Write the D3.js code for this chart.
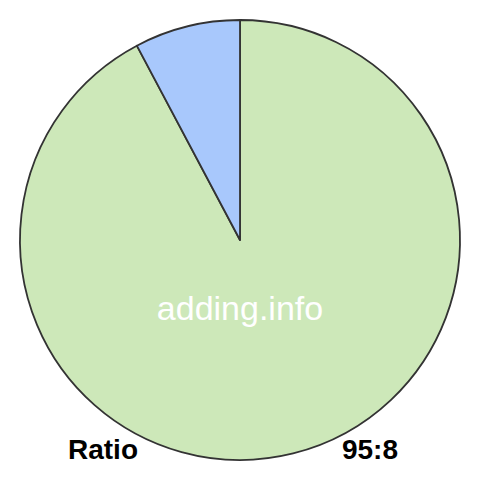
<!DOCTYPE html>
<html>
<head>
<meta charset="utf-8">
<script src="https://cdn.jsdelivr.net/npm/d3@7"></script>
<style>
  body { margin: 0; background: #fff; }
</style>
</head>
<body>
<div id="chart"></div>
<script>
const labels = ["95", "8"];
const values = [95, 8];
const colors = ["#cde8b9", "#a8c8fc"];

const width = 480, height = 480;
const cx = 240, cy = 240, radius = 220;

const svg = d3.select("#chart").append("svg")
  .attr("width", width)
  .attr("height", height)
  .attr("viewBox", [0, 0, width, height]);

const pie = d3.pie().sort(null).value(d => d);
const arc = d3.arc().innerRadius(0).outerRadius(radius);

const g = svg.append("g").attr("transform", `translate(${cx},${cy})`);

g.selectAll("path")
  .data(pie(values))
  .join("path")
  .attr("d", arc)
  .attr("fill", (d, i) => colors[i])
  .attr("stroke", "#333")
  .attr("stroke-width", 1.8)
  .attr("stroke-linejoin", "round");

svg.append("text")
  .attr("x", cx)
  .attr("y", 320)
  .attr("text-anchor", "middle")
  .attr("font-family", "Liberation Sans, Arial, sans-serif")
  .attr("font-size", 34)
  .attr("fill", "#fff")
  .text("adding.info");

svg.append("text")
  .attr("x", 68)
  .attr("y", 459)
  .attr("font-family", "Liberation Sans, Arial, sans-serif")
  .attr("font-weight", "bold")
  .attr("font-size", 28)
  .attr("fill", "#000")
  .text("Ratio");

svg.append("text")
  .attr("x", 398)
  .attr("y", 459)
  .attr("text-anchor", "end")
  .attr("font-family", "Liberation Sans, Arial, sans-serif")
  .attr("font-weight", "bold")
  .attr("font-size", 28)
  .attr("fill", "#000")
  .text(labels.join(":"));
</script>
</body>
</html>
